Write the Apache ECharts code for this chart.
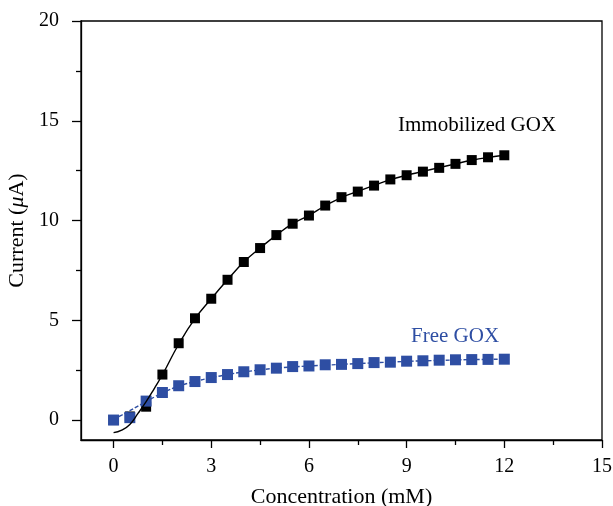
<!DOCTYPE html>
<html>
<head>
<meta charset="utf-8">
<script src="https://cdn.jsdelivr.net/npm/echarts@6/dist/echarts.min.js"></script>
<style>
  html, body { margin: 0; padding: 0; background: #fff; }
  #chart { width: 613px; height: 506px; }
</style>
</head>
<body>
<div id="chart"></div>
<script>
// measured points (mM)
const conc = [0, 0.5, 1, 1.5, 2, 2.5, 3, 3.5, 4, 4.5, 5, 5.5, 6, 6.5, 7, 7.5, 8, 8.5, 9, 9.5, 10, 10.5, 11, 11.5, 12]
const immobilized = [0, 0.18, 0.67, 2.28, 3.85, 5.1, 6.08, 7.03, 7.92, 8.62, 9.27, 9.84, 10.25, 10.75, 11.17, 11.45, 11.75, 12.06, 12.27, 12.45, 12.64, 12.84, 13.03, 13.17, 13.27]
const free = [0, 0.12, 0.95, 1.38, 1.72, 1.93, 2.13, 2.28, 2.42, 2.52, 2.6, 2.68, 2.71, 2.77, 2.79, 2.83, 2.88, 2.9, 2.95, 2.97, 3.0, 3.02, 3.03, 3.04, 3.05]

// fitted curves
const immobilizedFitX = [0, 0.25, 0.5, 0.75, 1, 1.25, 1.5, 2, 2.5, 3, 3.5, 4, 4.5, 5, 5.5, 6, 6.5, 7, 7.5, 8, 8.5, 9, 9.5, 10, 10.5, 11, 11.5, 12]
const immobilizedFitY = [-0.63, -0.5, -0.22, 0.33, 0.92, 1.58, 2.27, 3.8, 5.08, 6.08, 7.03, 7.92, 8.62, 9.27, 9.84, 10.26, 10.74, 11.15, 11.46, 11.76, 12.05, 12.27, 12.46, 12.65, 12.84, 13.02, 13.16, 13.27]
const freeFitX = [0, 0.25, 0.5, 0.75, 1, 1.25, 1.5, 2, 2.5, 3, 3.5, 4, 5, 6, 7, 8, 9, 10, 11, 12]
const freeFitY = [0.05, 0.25, 0.47, 0.7, 0.93, 1.15, 1.36, 1.7, 1.93, 2.12, 2.28, 2.41, 2.6, 2.71, 2.79, 2.87, 2.94, 2.99, 3.03, 3.05]

const xMajor = [0, 3, 6, 9, 12, 15]
const xMinor = [1.5, 4.5, 7.5, 10.5, 13.5]
const yMajor = [0, 5, 10, 15, 20]
const yMinor = [2.5, 7.5, 12.5, 17.5]

const BLUE = '#2e4ea3'
const FONT = 'Liberation Serif'

const pairs = (xs, ys) => xs.map((x, i) => [x, ys[i]])

const chart = echarts.init(document.getElementById('chart'))

const tickStyle = { color: '#000', width: 1.3 }

const option = {
  animation: false,
  backgroundColor: '#fff',
  grid: {
    left: 81, right: 11, top: 21, bottom: 66,
    containLabel: false,
    outerBoundsMode: 'none',
    show: true, borderColor: '#000', borderWidth: 1.3
  },
  xAxis: [
    {
      type: 'value', min: -1, max: 15, position: 'bottom',
      splitLine: { show: false },
      axisLine: { show: true, onZero: false, lineStyle: tickStyle },
      name: 'Concentration (mM)', nameLocation: 'middle', nameGap: 46,
      nameTextStyle: { fontFamily: FONT, fontSize: 22, color: '#000' },
      axisTick: { show: true, inside: false, length: 8, customValues: xMajor, lineStyle: tickStyle },
      axisLabel: { customValues: xMajor, margin: 17, fontFamily: FONT, fontSize: 20, color: '#000' }
    },
    {
      type: 'value', min: -1, max: 15, position: 'bottom',
      splitLine: { show: false },
      axisLine: { show: false, onZero: false },
      axisTick: { show: true, inside: false, length: 5, customValues: xMinor, lineStyle: tickStyle },
      axisLabel: { show: false }
    }
  ],
  yAxis: [
    {
      type: 'value', min: -1, max: 20, position: 'left',
      splitLine: { show: false },
      axisLine: { show: true, onZero: false, lineStyle: tickStyle },
      name: '{n|Current (}{i|μ}{n|A)}', nameLocation: 'middle', nameGap: 51, nameRotate: 90,
      nameTextStyle: {
        rich: {
          n: { fontFamily: FONT, fontSize: 22, color: '#000' },
          i: { fontFamily: FONT, fontSize: 22, fontStyle: 'italic', color: '#000' }
        }
      },
      axisTick: { show: true, inside: false, length: 9, customValues: yMajor, lineStyle: tickStyle },
      axisLabel: { customValues: yMajor, margin: 22, fontFamily: FONT, fontSize: 20, color: '#000' }
    },
    {
      type: 'value', min: -1, max: 20, position: 'left',
      splitLine: { show: false },
      axisLine: { show: false, onZero: false },
      axisTick: { show: true, inside: false, length: 5, customValues: yMinor, lineStyle: tickStyle },
      axisLabel: { show: false }
    }
  ],
  series: [
    {
      name: 'Immobilized GOX',
      type: 'scatter',
      symbol: 'rect',
      symbolSize: 10,
      itemStyle: { color: '#000', opacity: 1 },
      data: pairs(conc, immobilized),
      z: 2
    },
    {
      name: 'Free fit',
      type: 'line',
      smooth: true,
      showSymbol: false,
      lineStyle: { color: BLUE, width: 1.4, type: [4, 2] },
      data: pairs(freeFitX, freeFitY),
      z: 3
    },
    {
      name: 'Free GOX',
      type: 'scatter',
      symbol: 'rect',
      symbolSize: 11,
      itemStyle: { color: BLUE, opacity: 1 },
      data: pairs(conc, free),
      z: 4
    },
    {
      name: 'Immobilized fit',
      type: 'line',
      smooth: true,
      showSymbol: false,
      lineStyle: { color: '#000', width: 1.4 },
      data: pairs(immobilizedFitX, immobilizedFitY),
      z: 5
    }
  ],
  graphic: [
    {
      type: 'text', left: 398, top: 115,
      style: { text: 'Immobilized GOX', font: '21px "Liberation Serif"', fill: '#000' }
    },
    {
      type: 'text', left: 411, top: 326,
      style: { text: 'Free GOX', font: '21px "Liberation Serif"', fill: BLUE }
    }
  ]
}

chart.setOption(option)
</script>
</body>
</html>
